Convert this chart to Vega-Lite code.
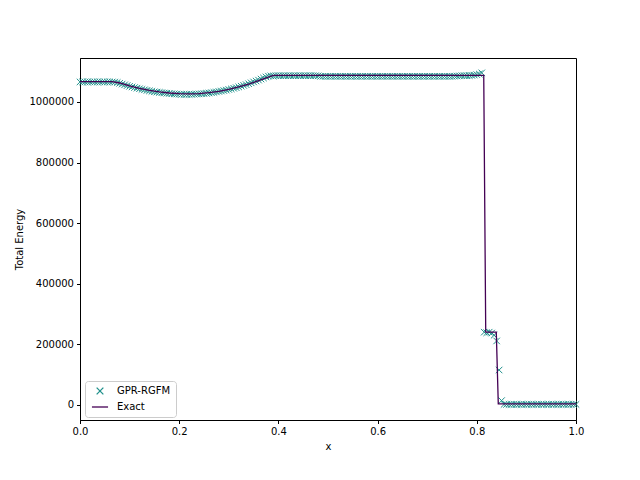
{
  "$schema": "https://vega.github.io/schema/vega-lite/v6.json",
  "width": 496,
  "height": 362,
  "autosize": "none",
  "padding": {"left": 80, "top": 58, "right": 64, "bottom": 60},
  "background": "white",
  "datasets": {
    "gpr": [
      {"x":0.000,"y":1066000},{"x":0.005,"y":1066000},{"x":0.010,"y":1066000},{"x":0.015,"y":1066000},{"x":0.020,"y":1066000},{"x":0.025,"y":1066000},{"x":0.030,"y":1066000},{"x":0.035,"y":1066000},{"x":0.040,"y":1066000},{"x":0.045,"y":1066000},{"x":0.050,"y":1066000},{"x":0.055,"y":1066000},{"x":0.060,"y":1066000},{"x":0.065,"y":1066000},
      {"x":0.070,"y":1065500},{"x":0.075,"y":1064000},{"x":0.080,"y":1061500},{"x":0.085,"y":1059000},{"x":0.090,"y":1056500},{"x":0.095,"y":1054000},{"x":0.100,"y":1051500},{"x":0.105,"y":1049500},{"x":0.110,"y":1047500},{"x":0.115,"y":1045500},{"x":0.120,"y":1043500},{"x":0.125,"y":1041500},{"x":0.130,"y":1040000},{"x":0.135,"y":1038000},{"x":0.140,"y":1036500},{"x":0.145,"y":1035000},{"x":0.150,"y":1033500},{"x":0.155,"y":1032500},{"x":0.160,"y":1031500},{"x":0.165,"y":1030500},{"x":0.170,"y":1029500},{"x":0.175,"y":1028500},{"x":0.180,"y":1028000},{"x":0.185,"y":1027000},{"x":0.190,"y":1026500},{"x":0.195,"y":1026000},{"x":0.200,"y":1025500},{"x":0.205,"y":1025000},{"x":0.210,"y":1025000},{"x":0.215,"y":1025000},{"x":0.220,"y":1025000},{"x":0.225,"y":1025000},{"x":0.230,"y":1025500},{"x":0.235,"y":1026000},{"x":0.240,"y":1026500},{"x":0.245,"y":1027000},{"x":0.250,"y":1027500},{"x":0.255,"y":1028500},{"x":0.260,"y":1029500},{"x":0.265,"y":1030500},{"x":0.270,"y":1031500},{"x":0.275,"y":1033000},{"x":0.280,"y":1034500},{"x":0.285,"y":1036000},{"x":0.290,"y":1037500},{"x":0.295,"y":1039000},{"x":0.300,"y":1041000},{"x":0.305,"y":1043000},{"x":0.310,"y":1045000},{"x":0.315,"y":1047000},{"x":0.320,"y":1049500},{"x":0.325,"y":1052000},{"x":0.330,"y":1054500},{"x":0.335,"y":1057000},{"x":0.340,"y":1060000},{"x":0.345,"y":1063000},{"x":0.350,"y":1066000},{"x":0.355,"y":1069000},{"x":0.360,"y":1072000},{"x":0.365,"y":1075500},{"x":0.370,"y":1079000},{"x":0.375,"y":1082500},{"x":0.380,"y":1085000},{"x":0.385,"y":1086000},
      {"x":0.390,"y":1085500},{"x":0.395,"y":1086500},{"x":0.400,"y":1086500},{"x":0.405,"y":1086500},{"x":0.410,"y":1086500},{"x":0.415,"y":1086500},{"x":0.420,"y":1086500},{"x":0.425,"y":1086500},{"x":0.430,"y":1086500},{"x":0.435,"y":1086500},{"x":0.440,"y":1086500},{"x":0.445,"y":1086500},{"x":0.450,"y":1086500},{"x":0.455,"y":1086500},{"x":0.460,"y":1086500},{"x":0.465,"y":1086500},{"x":0.470,"y":1086500},{"x":0.475,"y":1086500},{"x":0.480,"y":1086000},
      {"x":0.485,"y":1084500},{"x":0.490,"y":1084500},{"x":0.495,"y":1084500},{"x":0.500,"y":1084500},{"x":0.505,"y":1084500},{"x":0.510,"y":1084500},{"x":0.515,"y":1084500},{"x":0.520,"y":1084500},{"x":0.525,"y":1084500},{"x":0.530,"y":1084500},{"x":0.535,"y":1084500},{"x":0.540,"y":1084500},{"x":0.545,"y":1084500},{"x":0.550,"y":1084500},{"x":0.555,"y":1084500},{"x":0.560,"y":1084500},{"x":0.565,"y":1084500},{"x":0.570,"y":1084500},{"x":0.575,"y":1084500},{"x":0.580,"y":1084500},{"x":0.585,"y":1084500},{"x":0.590,"y":1084500},{"x":0.595,"y":1084500},{"x":0.600,"y":1084500},{"x":0.605,"y":1084500},{"x":0.610,"y":1084500},{"x":0.615,"y":1084500},{"x":0.620,"y":1084500},{"x":0.625,"y":1084500},{"x":0.630,"y":1084500},{"x":0.635,"y":1084500},{"x":0.640,"y":1084500},{"x":0.645,"y":1084500},{"x":0.650,"y":1084500},{"x":0.655,"y":1084500},{"x":0.660,"y":1084500},{"x":0.665,"y":1084500},{"x":0.670,"y":1084500},{"x":0.675,"y":1084500},{"x":0.680,"y":1084500},{"x":0.685,"y":1084500},{"x":0.690,"y":1084500},{"x":0.695,"y":1084500},{"x":0.700,"y":1084500},{"x":0.705,"y":1084500},{"x":0.710,"y":1084500},{"x":0.715,"y":1084500},{"x":0.720,"y":1084500},{"x":0.725,"y":1084500},{"x":0.730,"y":1084500},{"x":0.735,"y":1084500},{"x":0.740,"y":1084500},{"x":0.745,"y":1084500},{"x":0.750,"y":1084500},{"x":0.755,"y":1085000},{"x":0.760,"y":1085500},{"x":0.765,"y":1086000},{"x":0.770,"y":1086500},{"x":0.775,"y":1086500},{"x":0.780,"y":1086500},{"x":0.785,"y":1087000},{"x":0.790,"y":1087500},{"x":0.795,"y":1088500},{"x":0.800,"y":1090000},{"x":0.805,"y":1092000},
      {"x":0.810,"y":1096000},{"x":0.815,"y":240000},{"x":0.820,"y":238000},{"x":0.825,"y":240000},{"x":0.830,"y":237000},{"x":0.835,"y":230000},{"x":0.840,"y":211000},{"x":0.845,"y":115000},{"x":0.850,"y":14000},
      {"x":0.855,"y":1500},{"x":0.860,"y":1500},{"x":0.865,"y":1500},{"x":0.870,"y":1500},{"x":0.875,"y":1500},{"x":0.880,"y":1500},{"x":0.885,"y":1500},{"x":0.890,"y":1500},{"x":0.895,"y":1500},{"x":0.900,"y":1500},{"x":0.905,"y":1500},{"x":0.910,"y":1500},{"x":0.915,"y":1500},{"x":0.920,"y":1500},{"x":0.925,"y":1500},{"x":0.930,"y":1500},{"x":0.935,"y":1500},{"x":0.940,"y":1500},{"x":0.945,"y":1500},{"x":0.950,"y":1500},{"x":0.955,"y":1500},{"x":0.960,"y":1500},{"x":0.965,"y":1500},{"x":0.970,"y":1500},{"x":0.975,"y":1500},{"x":0.980,"y":1500},{"x":0.985,"y":1500},{"x":0.990,"y":1500},{"x":0.995,"y":1500},{"x":1.000,"y":1500}
    ],
    "exact": [
      {"x":0,"y":1067000},{"x":0.065,"y":1067000},{"x":0.08,"y":1062500},{"x":0.1,"y":1053000},{"x":0.12,"y":1045000},{"x":0.14,"y":1038000},{"x":0.16,"y":1033000},{"x":0.18,"y":1029500},{"x":0.2,"y":1027500},{"x":0.22,"y":1026500},{"x":0.24,"y":1027500},{"x":0.26,"y":1030500},{"x":0.28,"y":1035000},{"x":0.3,"y":1041500},{"x":0.32,"y":1049500},{"x":0.34,"y":1059000},{"x":0.36,"y":1070000},{"x":0.38,"y":1082000},{"x":0.39,"y":1087500},{"x":0.814,"y":1087500},{"x":0.818,"y":240000},{"x":0.8393,"y":240000},{"x":0.8433,"y":3500},{"x":1,"y":3500}
    ]
  },
  "layer": [
    {
      "data": {"name": "gpr"},
      "transform": [{"calculate": "'GPR-RGFM'", "as": "series"}],
      "mark": {"type": "point", "filled": false, "strokeWidth": 1, "size": 42, "opacity": 1},
      "encoding": {
        "x": {"field": "x", "type": "quantitative"},
        "y": {"field": "y", "type": "quantitative"},
        "color": {"field": "series", "type": "nominal"},
        "shape": {"field": "series", "type": "nominal"}
      }
    },
    {
      "data": {"name": "exact"},
      "transform": [{"calculate": "'Exact'", "as": "series"}],
      "mark": {"type": "line", "strokeWidth": 1.3},
      "encoding": {
        "x": {"field": "x", "type": "quantitative"},
        "y": {"field": "y", "type": "quantitative"},
        "color": {"field": "series", "type": "nominal"},
        "order": {"field": "x", "type": "quantitative"}
      }
    }
  ],
  "resolve": {"scale": {"color": "shared"}},
  "encoding": {
    "x": {"field": "x", "type": "quantitative",
      "scale": {"domain": [0, 1], "nice": false, "zero": false},
      "axis": {"values": [0, 0.2, 0.4, 0.6, 0.8, 1.0], "format": ".1f", "title": "x", "labelFlush": false, "titlePadding": 5}},
    "y": {"field": "y", "type": "quantitative",
      "scale": {"domain": [-50000, 1145000], "nice": false, "zero": false},
      "axis": {"values": [0, 200000, 400000, 600000, 800000, 1000000], "format": "d", "title": "Total Energy", "titlePadding": 4}},
    "color": {"field": "series", "type": "nominal",
      "scale": {"domain": ["GPR-RGFM", "Exact"], "range": ["#21918c", "#440154"]},
      "legend": {"title": null, "orient": "none", "legendX": 5, "legendY": 323}},
    "shape": {"field": "series", "type": "nominal",
      "scale": {"domain": ["GPR-RGFM", "Exact"], "range": ["M-1,-1L1,1M-1,1L1,-1", "M-2.4,0L2.4,0"]},
      "legend": {"title": null, "orient": "none", "legendX": 5, "legendY": 323}}
  },
  "config": {
    "font": "DejaVu Sans",
    "view": {"stroke": "black", "strokeWidth": 1},
    "axis": {"domainColor": "black", "tickColor": "black", "tickSize": 3.5, "labelFontSize": 10, "labelColor": "black", "titleFontSize": 10, "titleFontWeight": "normal", "titleColor": "black", "grid": false, "labelPadding": 3, "labelOverlap": false},
    "legend": {"fillColor": "white", "strokeColor": "#cccccc", "cornerRadius": 3, "padding": 5, "labelFontSize": 10, "labelColor": "black", "symbolSize": 45, "symbolStrokeWidth": 1.3, "rowPadding": 5, "labelOffset": 12, "symbolOffset": 5}
  }
}
